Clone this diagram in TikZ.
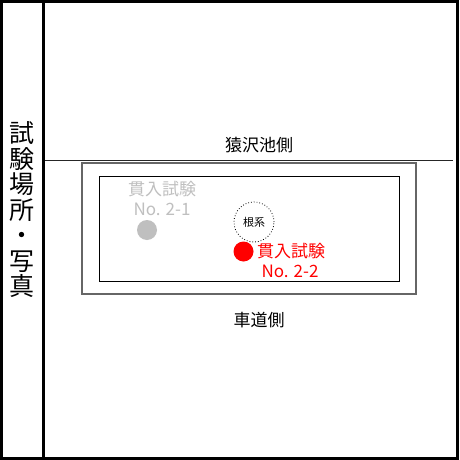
\documentclass[tikz,border=0pt]{standalone}
\usepackage{fontspec}
\newfontfamily\jp{Noto Sans CJK JP}
\begin{document}
\begin{tikzpicture}[x=1pt,y=-1pt,
  frame/.style={line width=3pt,black},
  lbl/.style={inner sep=0pt,font=\jp\fontsize{17}{17}\selectfont},
  side/.style={inner sep=0pt,align=center,font=\jp\fontsize{25}{25.5}\selectfont},
  grayt/.style={lbl,text=black!25},
  redt/.style={lbl,text=red}]
\useasboundingbox (0,0) rectangle (459,460);
\fill[white] (0,0) rectangle (459,460);
% frame
\draw[frame] (1.5,1.5) rectangle (457.5,458.5);
\draw[frame] (43.5,1.5) -- (43.5,458.5);
% left title
\node[side] (title) at (22,210) {試\\験\\場\\所\\・\\写\\真};
% pond side line
\coordinate (la) at (45,160.5);
\coordinate (lb) at (453,160.5);
\draw[line width=1pt,black!85] (la) -- (lb);
\node[lbl] (pond) at (259,145) {猿沢池側};
\node[lbl] (road) at (259,320) {車道側};
% rectangles
\draw[line width=1.4pt,black!60] (82,163) rectangle (416,294);
\draw[line width=0.9pt,black] (99,176.5) rectangle (399,281);
% test 2-1
\node[grayt] (g1) at (162,189) {貫入試験};
\node[grayt] (g2) at (162,209) {No. 2-1};
\fill[black!25] (147,230) circle (10);
% roots
\node[draw,circle,dotted,line width=0.8pt,minimum size=40pt,inner sep=0pt,
  font=\jp\fontsize{11}{11}\selectfont] (root) at (254,222) {根系};
% test 2-2
\fill[red] (243.5,251.5) circle (10);
\node[redt] (r1) at (291,251) {貫入試験};
\node[redt] (r2) at (290,271) {No. 2-2};
\end{tikzpicture}
\end{document}
